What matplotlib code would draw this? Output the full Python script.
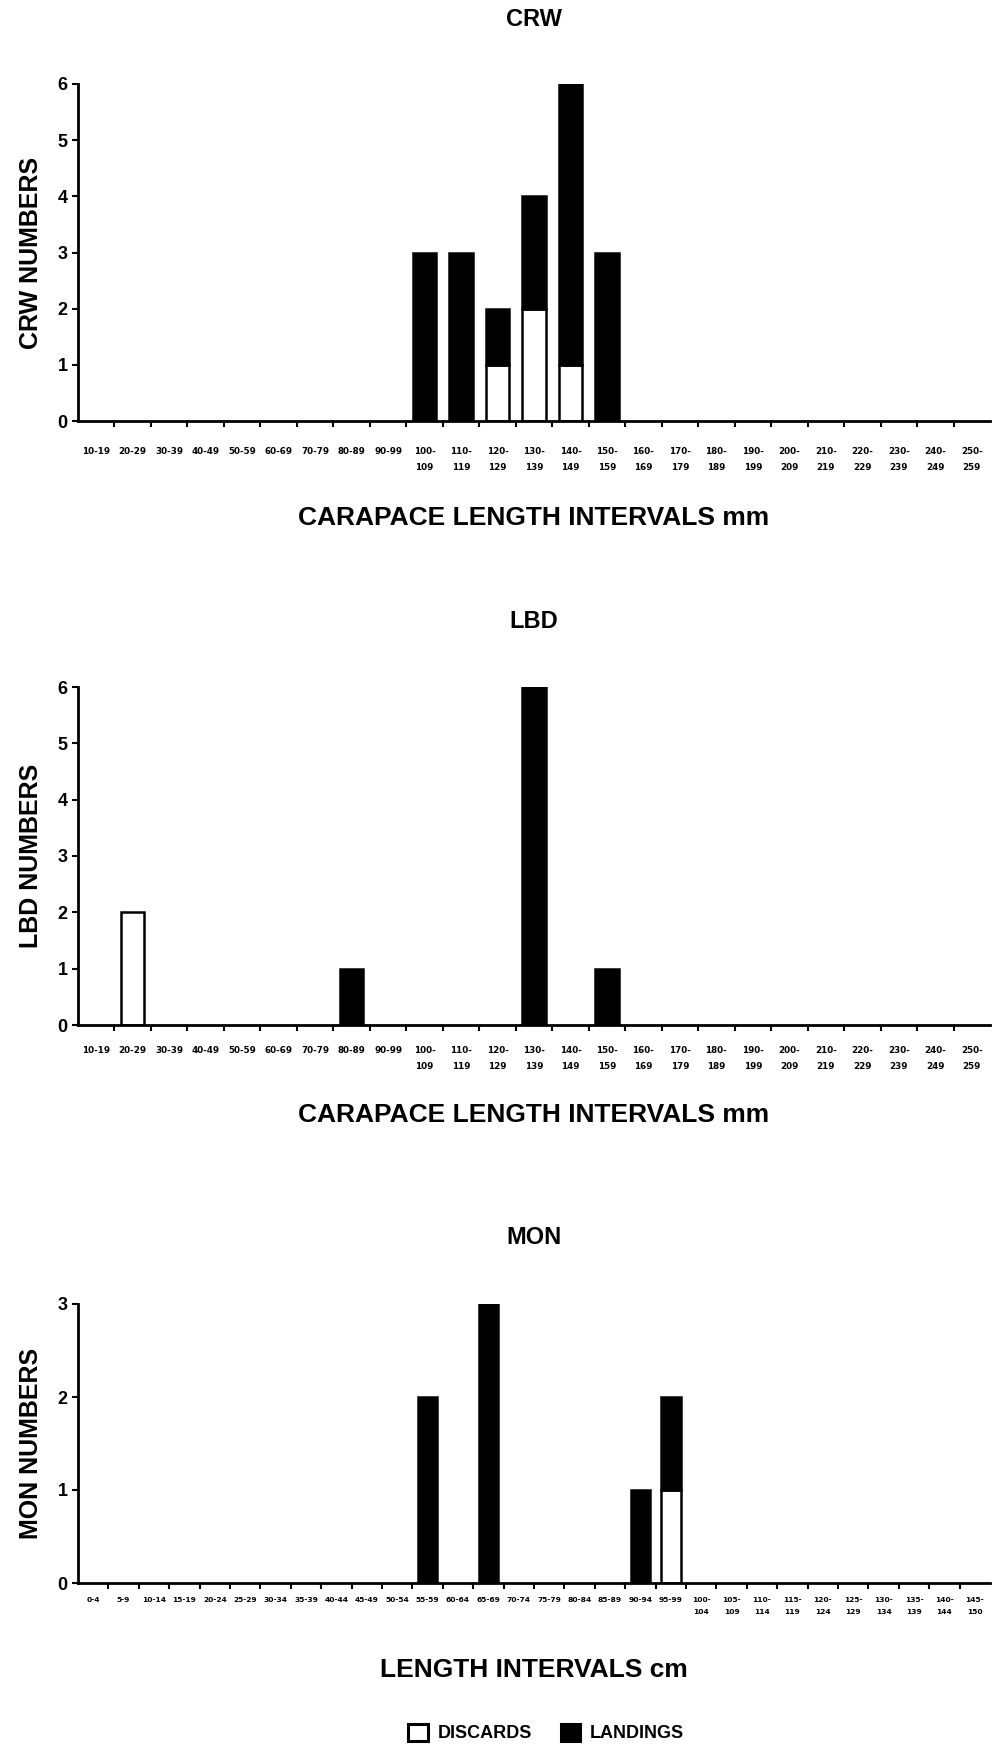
import matplotlib
matplotlib.use('Agg')
import matplotlib.pyplot as plt
from matplotlib.patches import Patch

# --- data ---
crw_labels = ['10-19', '20-29', '30-39', '40-49', '50-59', '60-69', '70-79', '80-89', '90-99',
              '100-\n109', '110-\n119', '120-\n129', '130-\n139', '140-\n149', '150-\n159',
              '160-\n169', '170-\n179', '180-\n189', '190-\n199', '200-\n209', '210-\n219',
              '220-\n229', '230-\n239', '240-\n249', '250-\n259']
crw_discards = [0, 0, 0, 0, 0, 0, 0, 0, 0, 0, 0, 1, 2, 1, 0, 0, 0, 0, 0, 0, 0, 0, 0, 0, 0]
crw_landings = [0, 0, 0, 0, 0, 0, 0, 0, 0, 3, 3, 1, 2, 5, 3, 0, 0, 0, 0, 0, 0, 0, 0, 0, 0]

lbd_labels = crw_labels
lbd_discards = [0, 2, 0, 0, 0, 0, 0, 0, 0, 0, 0, 0, 0, 0, 0, 0, 0, 0, 0, 0, 0, 0, 0, 0, 0]
lbd_landings = [0, 0, 0, 0, 0, 0, 0, 1, 0, 0, 0, 0, 6, 0, 1, 0, 0, 0, 0, 0, 0, 0, 0, 0, 0]

mon_labels = ['0-4', '5-9', '10-14', '15-19', '20-24', '25-29', '30-34', '35-39', '40-44',
              '45-49', '50-54', '55-59', '60-64', '65-69', '70-74', '75-79', '80-84', '85-89',
              '90-94', '95-99', '100-\n104', '105-\n109', '110-\n114', '115-\n119', '120-\n124',
              '125-\n129', '130-\n134', '135-\n139', '140-\n144', '145-\n150']
mon_discards = [0] * 19 + [1] + [0] * 10
mon_landings = [0] * 11 + [2, 0, 3, 0, 0, 0, 0, 1, 1] + [0] * 10

W, H = 1001, 1747
fig = plt.figure(figsize=(W / 100, H / 100), dpi=100)

BOLD = 'Liberation Sans'


def panel(rect, title, title_y, labels, disc, land, ymax, ylabel, xlabel, xlabel_y, pad, tsize, lsp):
    left, top, right, bottom = rect
    ax = fig.add_axes([left / W, 1 - bottom / H, (right - left) / W, (bottom - top) / H])
    x = list(range(len(labels)))
    ax.bar(x, disc, width=0.64, color='white', edgecolor='black',
           linewidth=[1.8 if v else 0 for v in disc], zorder=3)
    ax.bar(x, land, bottom=disc, width=0.64, color='black', edgecolor='black',
           linewidth=[1.8 if v else 0 for v in land], zorder=3)
    ax.set_xlim(-0.5, len(labels) - 0.5)
    ax.set_ylim(0, ymax)
    ax.set_yticks(range(ymax + 1))
    for s in ['top', 'right']:
        ax.spines[s].set_visible(False)
    ax.spines['left'].set_linewidth(2)
    ax.spines['bottom'].set_linewidth(2)
    ax.spines['bottom'].set_zorder(4)
    # ticks on category boundaries, labels centred
    ax.set_xticks([i + 0.5 for i in x[:-1]])
    ax.set_xticks(x, minor=True)
    ax.set_xticklabels([])
    ax.set_xticklabels(labels, minor=True, fontsize=tsize, fontweight='bold',
                       family='DejaVu Sans', va='top', linespacing=lsp)
    ax.tick_params(axis='x', which='major', direction='out', length=4, width=1.5)
    ax.tick_params(axis='x', which='minor', length=0, pad=pad)
    ax.tick_params(axis='y', direction='out', length=4, width=1.5, labelsize=13)
    for t in ax.get_yticklabels():
        t.set_fontweight('bold')
        t.set_family(BOLD)
    cx = (left + right) / 2 / W
    fig.text(cx, 1 - title_y / H, title, ha='center', va='center', fontsize=17,
             fontweight='bold', family=BOLD)
    fig.text(cx, 1 - xlabel_y / H, xlabel, ha='center', va='center', fontsize=19,
             fontweight='bold', family=BOLD)
    fig.text(31 / W, 1 - (top + bottom) / 2 / H, ylabel, ha='center', va='center', fontsize=18,
             fontweight='bold', family=BOLD, rotation=90)
    return ax


panel((78, 84, 990, 421), 'CRW', 20, crw_labels, crw_discards, crw_landings, 6,
      'CRW NUMBERS', 'CARAPACE LENGTH INTERVALS mm', 518, 19, 6.3, 2.0)
panel((78, 687, 990, 1025), 'LBD', 621, lbd_labels, lbd_discards, lbd_landings, 6,
      'LBD NUMBERS', 'CARAPACE LENGTH INTERVALS mm', 1115, 15, 6.3, 2.0)
panel((78, 1304, 990, 1583), 'MON', 1237, mon_labels, mon_discards, mon_landings, 3,
      'MON NUMBERS', 'LENGTH INTERVALS cm', 1670, 10, 5.4, 2.2)

handles = [Patch(facecolor='white', edgecolor='black', linewidth=2.2, label='DISCARDS'),
           Patch(facecolor='black', edgecolor='black', linewidth=2.2, label='LANDINGS')]
fig.legend(handles=handles, loc='center', bbox_to_anchor=(546 / W, 1 - 1733 / H), ncol=2,
           frameon=False, prop={'family': BOLD, 'size': 13, 'weight': 'bold'}, handlelength=1.1,
           handleheight=1.1, columnspacing=1.6, handletextpad=0.5)

plt.savefig('out.png', dpi=100)
